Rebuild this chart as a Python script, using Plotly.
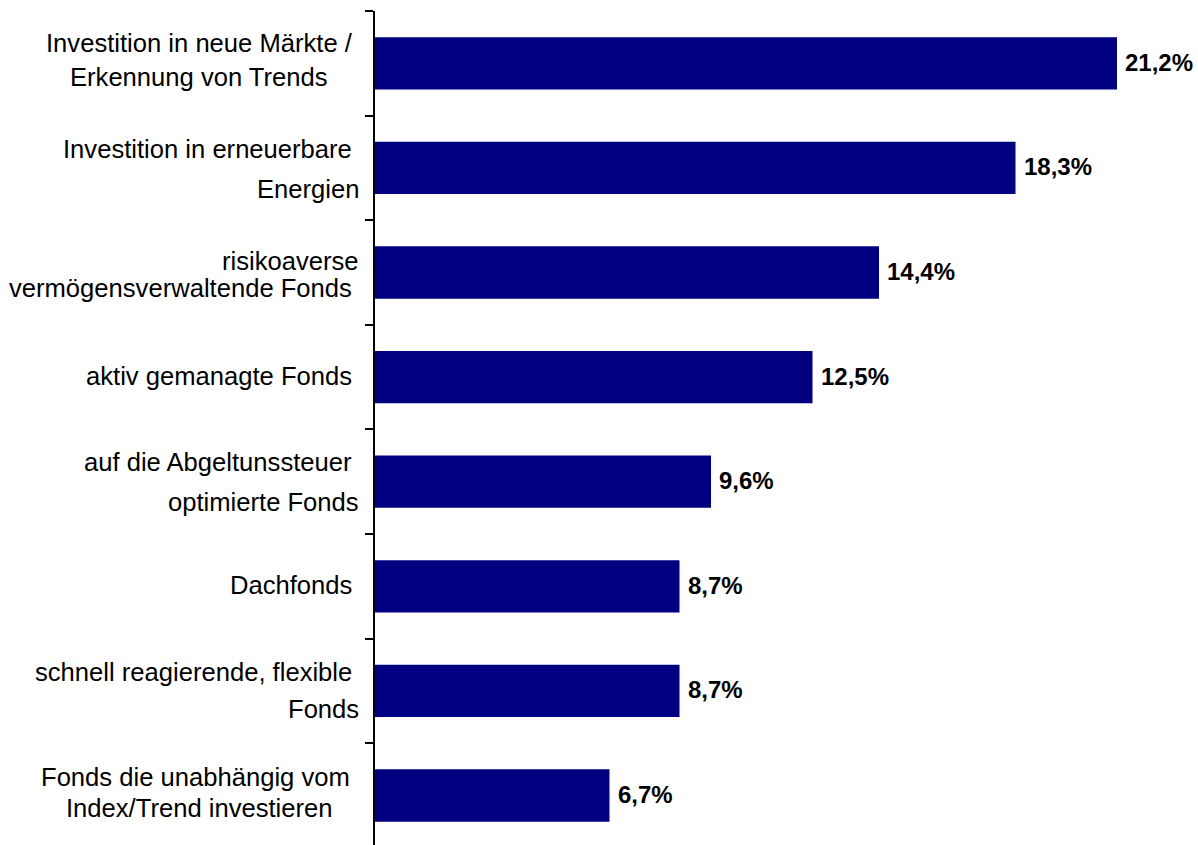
import plotly.graph_objects as go

# Survey answers (category label lines separated by "\n") and their shares in percent
categories = [
    "Investition in neue Märkte /\nErkennung von Trends",
    "Investition in erneuerbare \nEnergien",
    "risikoaverse\nvermögensverwaltende Fonds ",
    "aktiv gemanagte Fonds ",
    "auf die Abgeltunssteuer \noptimierte Fonds",
    "Dachfonds ",
    "schnell reagierende, flexible \nFonds",
    "Fonds die unabhängig vom \nIndex/Trend investieren",
]
shares = [21.2, 18.3, 14.4, 12.5, 9.6, 8.7, 8.7, 6.7]

# Label layout: alignment of each wrapped label and vertical offset (px, downward)
# of every line from the centre of its category
label_align = ["center", "right", "right", "right", "right", "right", "right", "center"]
line_offsets = [[-20, 14], [-19, 21], [-12, 15], [-1], [-20, 20], [-1], [-19, 18], [-19, 12]]

FONT = "Liberation Sans, Arial, Helvetica, sans-serif"
BAR_COLOR = "#000080"
LABEL_SIZE = 25.6
VALUE_SIZE = 24
RIGHT_SHIFT = -16    # right edge of right-aligned labels relative to the axis
CENTER_SHIFT = -176  # centre of centred labels relative to the axis
VALUE_GAP = 8

keys = [c.replace("\n", " ").strip() for c in categories]

fig = go.Figure(
    go.Bar(
        x=shares,
        y=keys,
        orientation="h",
        marker=dict(color=BAR_COLOR, line=dict(width=0)),
        width=0.5,
        hoverinfo="skip",
    )
)


def keep_trailing(line):
    stripped = line.rstrip(" ")
    return stripped + "\u00a0" * (len(line) - len(stripped))


annotations = []
for key, cat, align, offs in zip(keys, categories, label_align, line_offsets):
    for line, off in zip(cat.split("\n"), offs):
        annotations.append(dict(
            text=keep_trailing(line),
            xref="paper", x=0,
            xanchor="right" if align == "right" else "center",
            xshift=RIGHT_SHIFT if align == "right" else CENTER_SHIFT,
            yref="y", y=key, yanchor="middle", yshift=-off,
            showarrow=False, borderpad=0, borderwidth=0,
            font=dict(family=FONT, size=LABEL_SIZE, color="#000000"),
        ))

for key, v in zip(keys, shares):
    annotations.append(dict(
        text="<b>" + f"{v:.1f}".replace(".", ",") + "%</b>",
        xref="x", x=v, xanchor="left", xshift=VALUE_GAP,
        yref="y", y=key, yanchor="middle", yshift=1,
        showarrow=False, borderpad=0, borderwidth=0,
        font=dict(family=FONT, size=VALUE_SIZE, color="#000000"),
    ))

fig.update_layout(
    width=1198,
    height=845,
    margin=dict(l=375, r=18, t=11, b=0, pad=0),
    paper_bgcolor="#ffffff",
    plot_bgcolor="#ffffff",
    showlegend=False,
    annotations=annotations,
    font=dict(family=FONT, color="#000000"),
    xaxis=dict(
        range=[0, 23],
        visible=False,
        showgrid=False,
        zeroline=False,
        fixedrange=True,
    ),
    yaxis=dict(
        type="category",
        categoryorder="array",
        categoryarray=keys,
        range=[7.473, -0.5],
        showline=True,
        linecolor="#000000",
        linewidth=2,
        ticks="outside",
        tickson="boundaries",
        ticklen=8,
        tickwidth=1.5,
        tickcolor="#000000",
        showticklabels=False,
        showgrid=False,
        zeroline=False,
        fixedrange=True,
    ),
)

fig.write_html("out.html", config=dict(displayModeBar=False))
